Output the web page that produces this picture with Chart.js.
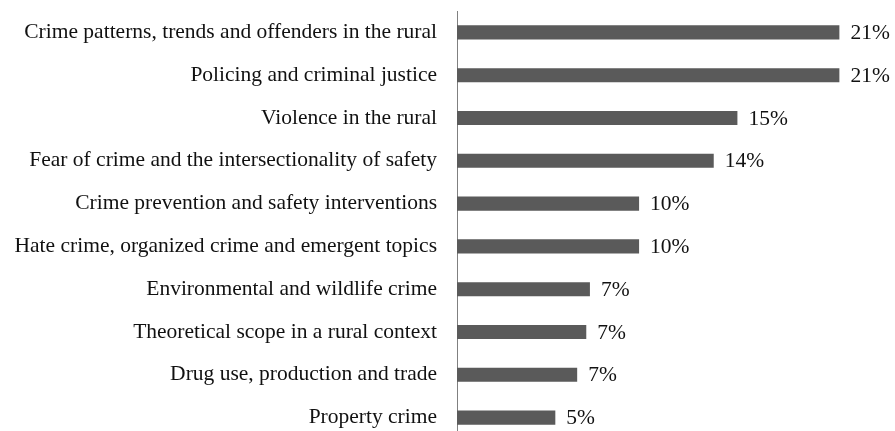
<!DOCTYPE html>
<html>
<head>
<meta charset="utf-8">
<script src="https://cdn.jsdelivr.net/npm/chart.js@4/dist/chart.umd.min.js"></script>
<style>
  html, body { margin: 0; padding: 0; background: #ffffff; overflow: hidden; }
  #wrap { position: relative; width: 895px; height: 439px; }
</style>
</head>
<body>
<div id="wrap"><canvas id="chart"></canvas></div>
<script>
// Research themes and their share of the reviewed literature (%)
const categories = [
  'Crime patterns, trends and offenders in the rural',
  'Policing and criminal justice',
  'Violence in the rural',
  'Fear of crime and the intersectionality of safety',
  'Crime prevention and safety interventions',
  'Hate crime, organized crime and emergent topics',
  'Environmental and wildlife crime',
  'Theoretical scope in a rural context',
  'Drug use, production and trade',
  'Property crime'
];
const shares = [21.0, 21.0, 15.4, 14.1, 10.0, 10.0, 7.3, 7.1, 6.6, 5.4];

const FONT = '"Liberation Serif", "Times New Roman", serif';

// Writes the rounded share just to the right of each bar
const valueLabels = {
  id: 'valueLabels',
  afterDatasetsDraw(chart) {
    const ctx = chart.ctx;
    const meta = chart.getDatasetMeta(0);
    ctx.save();
    ctx.font = '21.5px ' + FONT;
    ctx.fillStyle = '#111111';
    ctx.textAlign = 'left';
    ctx.textBaseline = 'middle';
    meta.data.forEach((bar, i) => {
      const v = chart.data.datasets[0].data[i];
      ctx.fillText(Math.round(v) + '%', bar.x + 11, bar.y + 1);
    });
    ctx.restore();
  }
};

new Chart(document.getElementById('chart'), {
  type: 'bar',
  data: {
    labels: categories,
    datasets: [{
      data: shares,
      backgroundColor: '#5a5a5a',
      borderWidth: 0,
      categoryPercentage: 1.0,
      barPercentage: 0.33
    }]
  },
  options: {
    indexAxis: 'y',
    responsive: true,
    maintainAspectRatio: false,
    devicePixelRatio: 1,
    animation: false,
    layout: { padding: { top: 11, right: 1, bottom: 0, left: 0 } },
    plugins: {
      legend: { display: false },
      tooltip: { enabled: false }
    },
    scales: {
      x: {
        display: false,
        min: 0,
        max: 24
      },
      y: {
        grid: { display: false, drawTicks: false },
        border: { display: true, color: '#808080', width: 1 },
        ticks: {
          color: '#111111',
          padding: 20,
          font: { family: FONT, size: 21.5 }
        },
        afterFit(scale) {
          scale.width = 457;
          scale.paddingTop = 0;
          scale.paddingBottom = 0;
        }
      }
    }
  },
  plugins: [valueLabels]
});
</script>
</body>
</html>
